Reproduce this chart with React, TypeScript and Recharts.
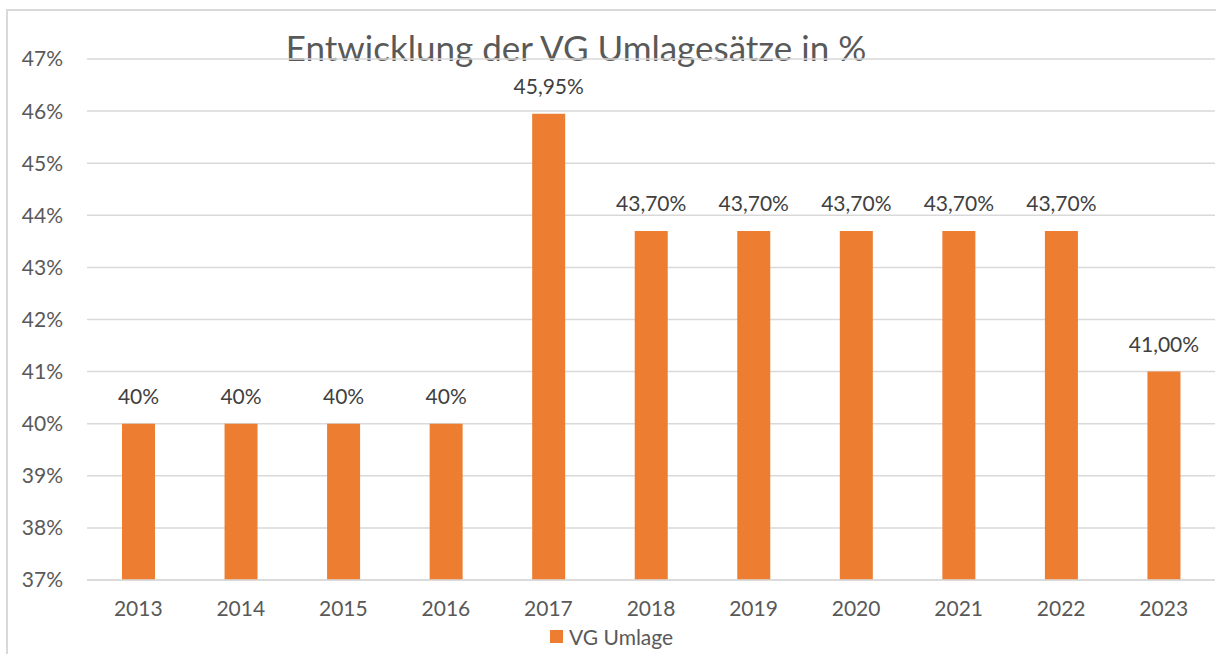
import React from 'react';
import { BarChart, Bar, XAxis, YAxis, CartesianGrid, LabelList, Legend } from 'recharts';

const years = ['2013', '2014', '2015', '2016', '2017', '2018', '2019', '2020', '2021', '2022', '2023'];
const rates = [40, 40, 40, 40, 45.95, 43.7, 43.7, 43.7, 43.7, 43.7, 41.0];
const rateLabels = ['40%', '40%', '40%', '40%', '45,95%', '43,70%', '43,70%', '43,70%', '43,70%', '43,70%', '41,00%'];
const yTicks = [37, 38, 39, 40, 41, 42, 43, 44, 45, 46, 47];
const seriesName = 'VG Umlage';
const title = 'Entwicklung der VG Umlagesätze in %';

const data = years.map((y, i) => ({ year: y, value: rates[i], label: rateLabels[i] }));

const FONT = 'Lato, "Open Sans", sans-serif';
const ORANGE = '#ED7D31';

const LegendContent = () => (
  <div style={{ display: 'flex', alignItems: 'center', fontFamily: FONT, fontSize: 21, color: '#595959' }}>
    <span style={{ display: 'inline-block', width: 13, height: 13, background: ORANGE, marginRight: 6 }} />
    <span>{seriesName}</span>
  </div>
);

export default function App() {
  return (
    <div style={{ position: 'absolute', left: 0, top: 0, width: 1216, height: 654, overflow: 'hidden', background: '#fff' }}>
      <div style={{ position: 'absolute', left: 6, top: 9, width: 1240, height: 700, borderLeft: '2px solid #d9d9d9', borderTop: '2px solid #d9d9d9' }} />
      <div style={{ position: 'absolute', left: 0, width: 1152, top: 26, textAlign: 'center', fontFamily: FONT, fontSize: 35, color: '#595959' }}>{title}</div>
      <BarChart width={1216} height={654} data={data} margin={{ top: 59, right: 1, bottom: 19, left: 0 }} barCategoryGap={0}>
        <CartesianGrid vertical={false} stroke="#d9d9d9" strokeWidth={1.5} />
        <XAxis dataKey="year" axisLine={{ stroke: '#d9d9d9', strokeWidth: 1.5 }} tickLine={false} tickMargin={15}
          tick={{ fill: '#595959', fontSize: 21, fontFamily: FONT }} interval={0} />
        <YAxis domain={[37, 47]} ticks={yTicks} width={87} axisLine={false} tickLine={false} tickMargin={18}
          tickFormatter={(v: number) => `${v}%`} tick={{ fill: '#595959', fontSize: 21, fontFamily: FONT }} allowDataOverflow />
        <Legend content={<LegendContent />} wrapperStyle={{ position: 'absolute', left: 550, top: 624, width: 'auto' }} />
        <Bar dataKey="value" name={seriesName} fill={ORANGE} barSize={33} isAnimationActive={false}>
          <LabelList dataKey="label" position="top" offset={20} fill="#404040" fontSize={21} fontFamily={FONT} />
        </Bar>
      </BarChart>
    </div>
  );
}
